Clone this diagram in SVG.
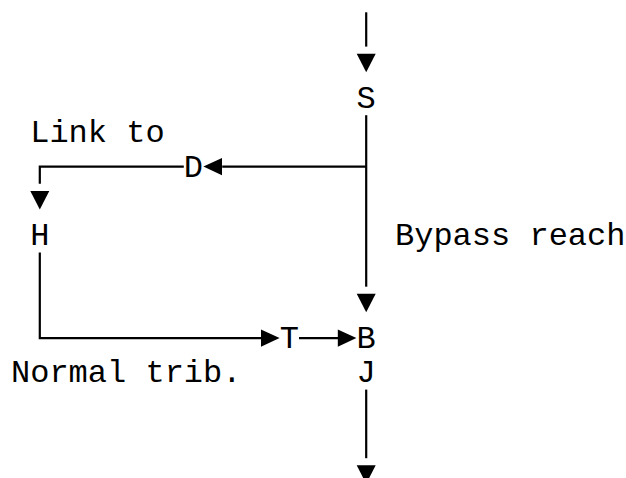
<svg xmlns="http://www.w3.org/2000/svg" width="626" height="478" viewBox="0 0 626 478">
  <style>
    .t { font-family: "Liberation Mono", "DejaVu Sans Mono", monospace; font-size: 32px; fill: #000; }
    .c { text-anchor: middle; }
    .ln { fill: none; stroke: #000; stroke-width: 2.2; }
    .ah { fill: #000; stroke: none; }
  </style>
  <rect width="626" height="478" fill="#fff"/>
  <g id="connectors">
    <line class="ln" x1="366.2" y1="12.3" x2="366.2" y2="46.6"/>
    <polygon class="ah" points="356.7,53.7 375.7,53.7 366.2,72.2"/>
    <line class="ln" x1="366.2" y1="115.2" x2="366.2" y2="286.7"/>
    <polygon class="ah" points="356.7,293.8 375.7,293.8 366.2,312.3"/>
    <line class="ln" x1="222.2" y1="166.6" x2="366.2" y2="166.6"/>
    <polygon class="ah" points="203.4,166.6 222,158 222,175.2"/>
    <path class="ln" d="M39.8,183.8 V166.6 H183.8"/>
    <polygon class="ah" points="30.3,190.9 49.3,190.9 39.8,209.4"/>
    <path class="ln" d="M39.8,252.4 V338.1 H261"/>
    <polygon class="ah" points="261,329.5 261,346.7 279.6,338.1"/>
    <line class="ln" x1="299" y1="338.1" x2="338" y2="338.1"/>
    <polygon class="ah" points="337.8,329.5 337.8,346.7 356.4,338.1"/>
    <line class="ln" x1="366.2" y1="389.6" x2="366.2" y2="458.2"/>
    <polygon class="ah" points="356.7,465.3 375.7,465.3 366.2,483.8"/>
  </g>
  <g id="node-S"><text class="t c" x="366.2" y="108">S</text></g>
  <g id="node-D"><text class="t c" x="193.4" y="176.6">D</text></g>
  <g id="node-H"><text class="t c" x="39.8" y="245.2">H</text></g>
  <g id="node-T"><text class="t c" x="289.4" y="348.1">T</text></g>
  <g id="node-B"><text class="t c" x="366.2" y="348.1">B</text></g>
  <g id="node-J"><text class="t c" x="366.2" y="382.4">J</text></g>
  <g id="labels">
    <text class="t" x="30.2" y="142.3">Link to</text>
    <text class="t" x="395" y="245.2">Bypass reach</text>
    <text class="t" x="11" y="382.4">Normal trib.</text>
  </g>
</svg>
